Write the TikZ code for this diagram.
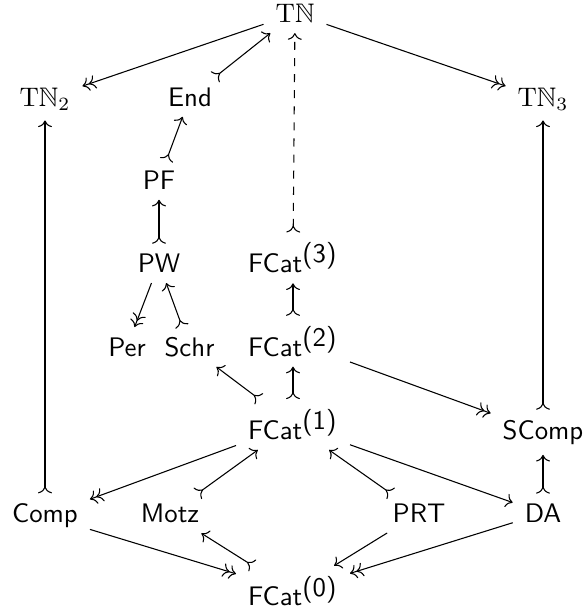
\documentclass[tikz,border=0pt]{standalone}
\usepackage{amssymb}
\usetikzlibrary{arrows.meta}
\begin{document}
\begin{tikzpicture}[x=0.373pt,y=-0.373pt,
  >={Computer Modern Rightarrow},
  cell/.style={anchor=base, inner xsep=1ex, inner ysep=0.85ex, font=\sffamily},
  mono/.style={>->},
  epi/.style={->>},
  plain/.style={->}]
\useasboundingbox (0,0) rectangle (582,611);
% row 0
\node[cell] (TN) at (295,22.8) {$\mathrm{T}\mathbb{N}$};
% row 1
\node[cell] (TN2) at (45,106.1) {$\mathrm{T}\mathbb{N}_2$};
\node[cell] (End) at (190,106.1) {End};
\node[cell] (TN3) at (543,106.1) {$\mathrm{T}\mathbb{N}_3$};
% row 2
\node[cell] (PF) at (159,189.4) {PF};
% row 3
\node[cell] (PW) at (159,272.7) {PW};
\node[cell] (F3) at (293,272.7) {FCat$^{\textsf{(3)}}$};
% row 4
\node[cell] (Per) at (127,356) {Per};
\node[cell] (Schr) at (189.5,356) {Schr};
\node[cell] (F2) at (293,356) {FCat$^{\textsf{(2)}}$};
% row 5
\node[cell] (F1) at (293,439.3) {FCat$^{\textsf{(1)}}$};
\node[cell] (SComp) at (543,439.3) {SComp};
% row 6
\node[cell] (Comp) at (45,522.6) {Comp};
\node[cell] (Motz) at (170,522.6) {Motz};
\node[cell] (PRT) at (419,522.6) {PRT};
\node[cell] (DA) at (543,522.6) {DA};
% row 7
\node[cell] (F0) at (293,605.9) {FCat$^{\textsf{(0)}}$};

\draw[epi] (TN) -- (TN2);
\draw[mono] (End) -- (TN);
\draw[epi] (TN) -- (TN3);
\draw[mono,dashed] (F3) -- (TN);
\draw[mono] (Comp) -- (TN2);
\draw[mono] (SComp) -- (TN3);
\draw[mono] (PF) -- (End);
\draw[mono] (PW) -- (PF);
\draw[epi] (PW) -- (Per);
\draw[mono] (Schr) -- (PW);
\draw[mono] (F1) -- (Schr);
\draw[mono] (F2) -- (F3);
\draw[mono] (F1) -- (F2);
\draw[epi] (F2) -- (SComp);
\draw[epi] (F1) -- (Comp);
\draw[mono] (Motz) -- (F1);
\draw[mono] (PRT) -- (F1);
\draw[plain] (F1) -- (DA);
\draw[mono] (DA) -- (SComp);
\draw[epi] (Comp) -- (F0);
\draw[mono] (F0) -- (Motz);
\draw[plain] (PRT) -- (F0);
\draw[epi] (DA) -- (F0);
\end{tikzpicture}
\end{document}
